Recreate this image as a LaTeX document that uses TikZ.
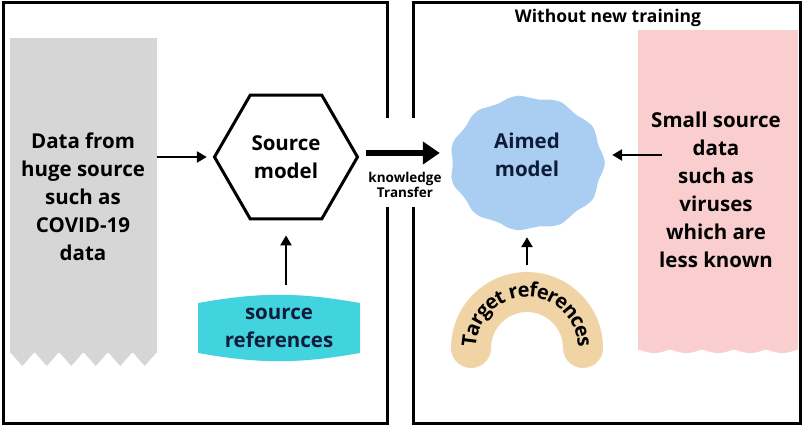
\documentclass[tikz,border=0pt]{standalone}
\usepackage{fontspec}
\setmainfont{Open Sans}
\usepackage{tikz}
\usetikzlibrary{arrows.meta,calc,positioning,shapes.geometric,decorations.text}
\definecolor{stripgrey}{RGB}{214,214,214}
\definecolor{softpink}{RGB}{250,206,206}
\definecolor{refcyan}{RGB}{66,212,222}
\definecolor{aimblue}{RGB}{170,205,242}
\definecolor{targettan}{RGB}{240,212,166}
\definecolor{inknavy}{RGB}{14,28,58}
\tikzset{
  panel/.style={line width=3pt,draw=black},
  flow/.style={-{Triangle[length=10pt,width=11pt]},line width=2.6pt},
  bigflow/.style={-{Triangle[length=17pt,width=22pt]},line width=6.5pt},
  bodytext/.style={font=\bfseries\fontsize{20.5}{28}\selectfont,
    align=center,inner sep=2pt},
  smalllabel/.style={font=\bfseries\fontsize{13.5}{13}\selectfont,
    align=center,inner sep=1pt},
  hexmodel/.style={bodytext,regular polygon,regular polygon sides=6,
    draw,line width=3pt,minimum size=143pt,inner sep=0pt},
  heading/.style={font=\bfseries\fontsize{17.5}{20}\selectfont}
}

\begin{document}
\begin{tikzpicture}[x=1pt,y=-1pt]
  \useasboundingbox (0,0) rectangle (805,425);
  % two panels, open where the transfer arrow crosses
  \draw[panel] (387,118) -- (387,3) -- (3,3) -- (3,423) -- (387,423) -- (387,207);
  \draw[panel] (413,118) -- (413,3) -- (800,3) -- (800,423) -- (413,423) -- (413,207);

  % left panel
  \node[fill=stripgrey,minimum width=147pt,minimum height=315pt,inner sep=0pt]
    (srcstrip) at (83.5,195.5) {};
  \foreach \i in {0,...,5}
    \fill[stripgrey] ({10+24.5*\i},352) -- ({22.25+24.5*\i},366)
      -- ({34.5+24.5*\i},352) -- cycle;
  \node[bodytext] (srcdata) at (83,197)
    {Data from\\huge source\\such as\\COVID-19\\data};
  \node[hexmodel] (srcmodel) at (286,157) {Source\\model};
  \fill[refcyan] (198,303) to[bend left=10] (360,303) -- (360,353)
    to[bend left=10] (198,353) -- cycle;
  \node[bodytext,text=inknavy,minimum width=162pt,minimum height=50pt]
    (srcref) at (279,328) {source\\references};
  \draw[flow,shorten >=6pt] (srcmodel.west -| srcstrip.east) -- (srcmodel.west);
  \draw[flow,shorten <=18pt,shorten >=15pt] (srcmodel.south |- srcref.north)
    -- (srcmodel.south);

  % right panel
  \node[heading] (title) at (608,18) {Without new training};
  \node[fill=softpink,minimum width=160pt,minimum height=320pt,inner sep=0pt]
    (smallstrip) at (718,190) {};
  \fill[softpink] (638,349) \foreach \i in {0,...,4} { to[bend right=25] ++(32,0) }
    -- cycle;
  \node[bodytext] (smalldata) at (716,190)
    {Small source\\data\\such as\\viruses\\which are\\less known};
  \coordinate (aimc) at (527,163);
  \fill[aimblue,shift={(aimc)}] plot[smooth cycle,domain=0:352,samples=45]
    ({(76+1.8*cos(11*\x))*cos(\x)},{(66+1.8*cos(11*\x))*sin(\x)});
  \node[bodytext,text=inknavy,ellipse,minimum width=152pt,minimum height=128pt]
    (aimed) at (527,155) {Aimed\\model};
  \coordinate (tgtc) at (527,348);
  \draw[targettan,line width=40pt,line cap=round]
    (tgtc) ++(180:56) arc[start angle=180,end angle=360,radius=56];
  \path[decorate,decoration={text along path,text align=center,raise=-6pt,
    text={|\bfseries\fontsize{20}{20}\selectfont|Target references}}]
    (tgtc) ++(165:57) arc[start angle=165,end angle=375,radius=57];
  \coordinate (tgtref) at ([yshift=76pt]tgtc);
  \draw[flow,shorten <=7pt,shorten >=18pt] (tgtref) -- (aimed);
  \draw[flow,shorten >=9pt] ([xshift=59pt]aimed.east) -- (aimed.east);

  % transfer between the panels
  \draw[bigflow,shorten <=7pt,shorten >=11pt] ([yshift=4pt]srcmodel.east)
    -- ([yshift=4pt]srcmodel.east -| aimed.west)
    node[midway,below=15pt,smalllabel] (ktlabel) {knowledge\\Transfer};
\end{tikzpicture}
\end{document}
